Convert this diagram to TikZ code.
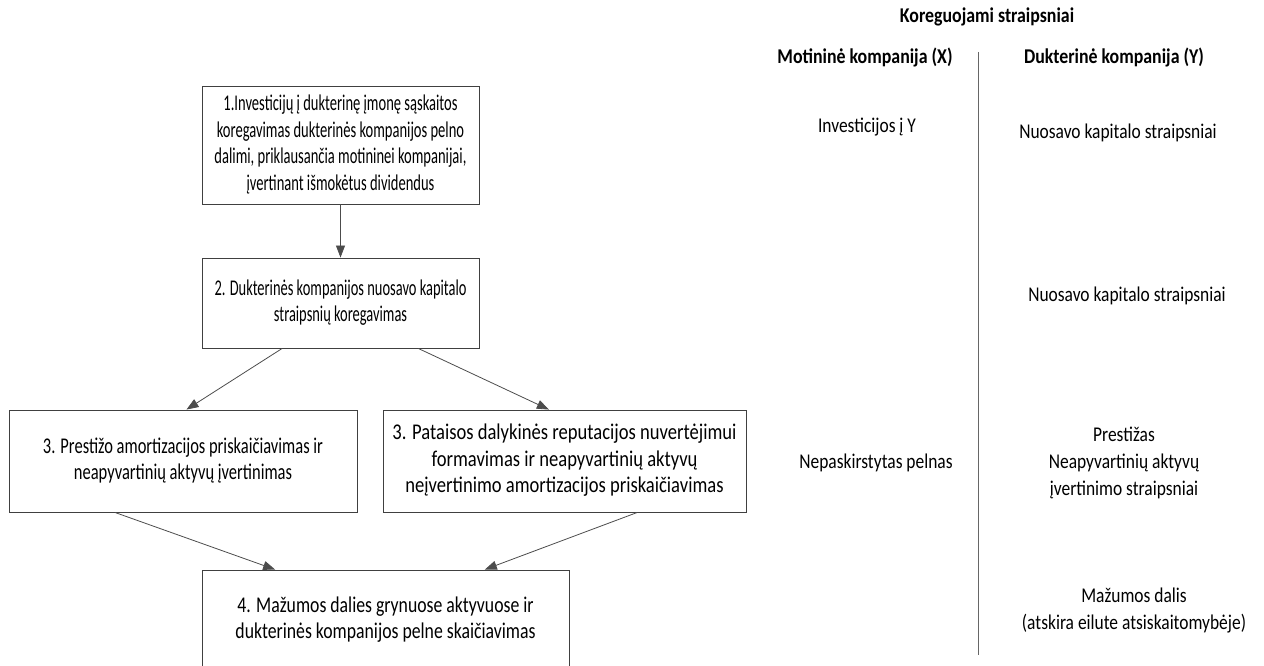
\documentclass[tikz,border=0pt]{standalone}
\usepackage{fontspec}
\usepackage{graphicx}
\setmainfont{Carlito}
\usetikzlibrary{arrows.meta,calc}
\newcommand{\fitw}[2]{\resizebox{#1}{\height}{\begin{tabular}{@{}c@{}}#2\end{tabular}}}
\newcommand{\sqtext}[2]{\scalebox{#1}[1]{\begin{tabular}{@{}c@{}}#2\end{tabular}}}
\tikzset{
  box/.style={draw=black!75, line width=0.9pt, align=center, inner sep=0pt, font=\fontsize{22.5}{26.5}\selectfont},
  conn/.style={draw=black!70, line width=0.8pt, -{Triangle[length=12pt,width=9pt]}},
  lbl/.style={align=center, inner sep=0pt, font=\fontsize{21}{27}\selectfont},
  hdr/.style={align=center, inner sep=0pt, font=\fontsize{21}{27}\selectfont\bfseries},
}
\begin{document}
\begin{tikzpicture}[x=1pt,y=-1pt]
\useasboundingbox (0,0) rectangle (1264,666);
\clip (0,0) rectangle (1264,666);
% boxes
\node[box, minimum width=277pt, minimum height=118pt] (b1) at (340.5,145)
 {\fitw{252pt}{1.Investicijų į dukterinę įmonę sąskaitos\\ koregavimas dukterinės kompanijos pelno\\ dalimi, priklausančia motininei kompanijai,\\ įvertinant išmokėtus dividendus}};
\node[box, minimum width=277pt, minimum height=90pt] (b2) at (340.5,303)
 {\fitw{252pt}{2. Dukterinės kompanijos nuosavo kapitalo\\ straipsnių koregavimas}};
\node[box, minimum width=348pt, minimum height=102pt] (b3a) at (183,461)
 {\fitw{280pt}{3. Prestižo amortizacijos priskaičiavimas ir\\ neapyvartinių aktyvų įvertinimas}};
\node[box, minimum width=363pt, minimum height=102pt] (b3b) at (564.5,461)
 {\fitw{344pt}{3. Pataisos dalykinės reputacijos nuvertėjimui\\ formavimas ir neapyvartinių aktyvų\\ neįvertinimo amortizacijos priskaičiavimas}};
\node[box, minimum width=367pt, minimum height=100pt] (b4) at (385.5,620)
 {\fitw{300pt}{4. Mažumos dalies grynuose aktyvuose ir\\ dukterinės kompanijos pelne skaičiavimas}};
% connectors
\draw[conn] (b1.south) -- (b2.north);
\draw[conn] ($(b2.south west)!0.29!(b2.south east)$) -- ($(b3a.north west)!0.51!(b3a.north east)$);
\draw[conn] ($(b2.south west)!0.78!(b2.south east)$) -- ($(b3b.north west)!0.457!(b3b.north east)$);
\draw[conn] ($(b3a.south west)!0.305!(b3a.south east)$) -- ($(b4.north west)!0.2!(b4.north east)$);
\draw[conn] ($(b3b.south west)!0.70!(b3b.south east)$) -- ($(b4.north west)!0.77!(b4.north east)$);
% right table
\node[hdr] (title) at (987,17) {\sqtext{0.85}{Koreguojami straipsniai}};
\node[hdr] (hx) at (865,58) {\sqtext{0.85}{Motininė kompanija (X)}};
\node[hdr] (hy) at (1114,58) {\sqtext{0.85}{Dukterinė kompanija (Y)}};
\coordinate (vtop) at (978,52);
\coordinate (vbot) at (978,655);
\draw[black!60, line width=0.8pt] (vtop) -- (vbot);
\node[lbl] (x1) at (867,127) {\sqtext{0.83}{Investicijos į Y}};
\node[lbl] (y1) at (1118,133) {\sqtext{0.83}{Nuosavo kapitalo straipsniai}};
\node[lbl] (y2) at (1127,296) {\sqtext{0.83}{Nuosavo kapitalo straipsniai}};
\node[lbl] (x3) at (876,463) {\sqtext{0.83}{Nepaskirstytas pelnas}};
\node[lbl] (y3) at (1124,463) {\sqtext{0.83}{Prestižas\\ Neapyvartinių aktyvų\\ įvertinimo straipsniai}};
\node[lbl] (y4) at (1134,611) {\sqtext{0.83}{Mažumos dalis\\ (atskira eilute atsiskaitomybėje)}};
\end{tikzpicture}
\end{document}
